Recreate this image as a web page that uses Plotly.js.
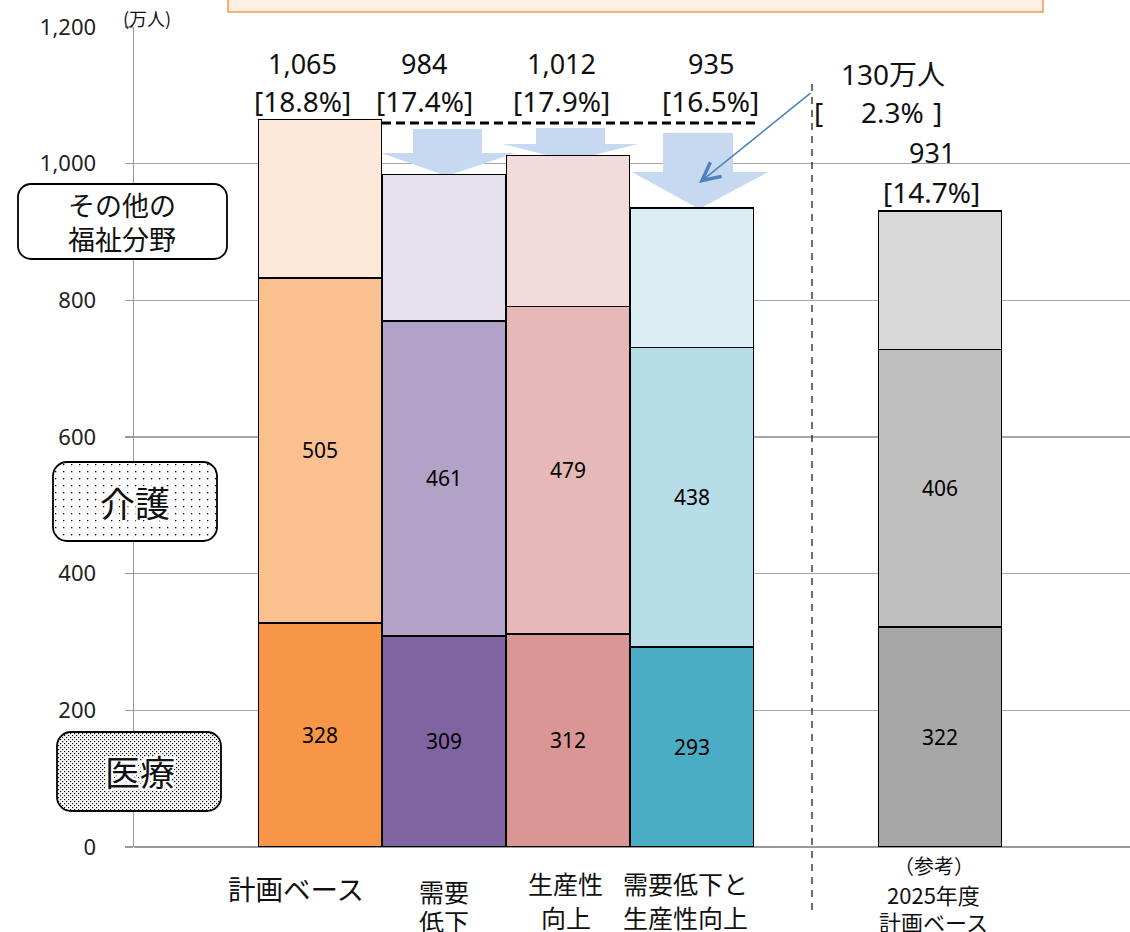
<!DOCTYPE html>
<html>
<head>
<meta charset="utf-8">
<script src="https://cdn.plot.ly/plotly-3.0.1.min.js"></script>
<style>html,body{margin:0;padding:0;background:#fff;}#chart{width:1130px;height:932px;}</style>
</head>
<body>
<div id="chart"></div>
<script>
// ---- data ----
const categories = ['計画ベース', '需要低下', '生産性向上', '需要低下と生産性向上', '（参考）2025年度計画ベース'];
const categoryLines = [['計画ベース'], ['需要', '低下'], ['生産性', '向上'], ['需要低下と', '生産性向上'], ['（参考）', '2025年度', '計画ベース']];
const xPositions = [0, 1, 2, 3, 5];
const iryo = [328, 309, 312, 293, 322];      // 医療
const kaigo = [505, 461, 479, 438, 406];     // 介護
const sonota = [232, 214, 221, 204, 203];    // その他の福祉分野
const totals = ['1,065', '984', '1,012', '935', '931'];
const shares = ['[18.8%]', '[17.4%]', '[17.9%]', '[16.5%]', '[14.7%]'];
const gapLabel = '130万人';
const gapShare = '2.3%';
const yTicks = [0, 200, 400, 600, 800, 1000, 1200];
const yTickText = ['0', '200', '400', '600', '800', '1,000', '1,200'];

const iryoColors = ['#F79646', '#8064A2', '#D99694', '#4BACC6', '#A6A6A6'];
const kaigoColors = ['#FAC090', '#B3A2C7', '#E6B9B8', '#B7DEE8', '#BFBFBF'];
const sonotaColors = ['#FDE9D9', '#E6E0EC', '#F2DCDB', '#DBEEF4', '#D9D9D9'];

// ---- geometry helpers (page pixels -> paper / data) ----
const W = 1130, H = 932;
const M = {l: 134, r: 0, t: 27, b: 85};
const PW = W - M.l - M.r, PH = H - M.t - M.b;
const XR = [-1.5, -1.5 + PW / 124];
const YR = [0, 1200];
const pxX = p => (p - M.l) / PW;
const pxY = p => (H - M.b - p) / PH;
const dX = p => XR[0] + pxX(p) * (XR[1] - XR[0]);
const dY = p => YR[0] + pxY(p) * (YR[1] - YR[0]);

const NUM = 'Noto Sans, Noto Sans CJK JP, sans-serif';
const JP = 'Noto Sans CJK JP, Noto Sans, sans-serif';

const barLine = {color: '#000', width: 1.5};
const common = {type: 'bar', x: xPositions, width: 0.99, hoverinfo: 'skip', showlegend: false};
const traces = [
  Object.assign({}, common, {name: '医療', y: iryo, marker: {color: iryoColors, line: barLine},
    text: iryo.map(String), textposition: 'inside', insidetextanchor: 'middle', textangle: 0,
    constraintext: 'none', textfont: {family: NUM, size: 21, color: '#000'}}),
  Object.assign({}, common, {name: '介護', y: kaigo, marker: {color: kaigoColors, line: barLine},
    text: kaigo.map(String), textposition: 'inside', insidetextanchor: 'middle', textangle: 0,
    constraintext: 'none', textfont: {family: NUM, size: 21, color: '#000'}}),
  Object.assign({}, common, {name: 'その他の福祉分野', y: sonota, marker: {color: sonotaColors, line: barLine},
    textposition: 'none'})
];

// ---- annotations ----
const ann = [];
const totalOffsets = [-0.145, -0.16, -0.05, 0.153, -0.065];
const totalRows = [[63, 101], [63, 101], [63, 101], [63, 101], [152, 192]];
xPositions.forEach((x, i) => {
  ann.push({x: x + totalOffsets[i], y: pxY(totalRows[i][0]), xref: 'x', yref: 'paper', text: totals[i],
    showarrow: false, font: {family: NUM, size: 27, color: '#111'}, xanchor: 'center', yanchor: 'middle'});
  ann.push({x: x + totalOffsets[i], y: pxY(totalRows[i][1]), xref: 'x', yref: 'paper', text: shares[i],
    showarrow: false, font: {family: NUM, size: 28, color: '#111'}, xanchor: 'center', yanchor: 'middle'});
});
// category labels
const catLayout = [
  {ys: [888], sizes: [27.5]},
  {ys: [891, 921], sizes: [25, 25]},
  {ys: [883, 917], sizes: [25, 25]},
  {ys: [883, 917], sizes: [25, 25]},
  {ys: [865, 894, 921], sizes: [20, 22, 22]}
];
const catOffsets = [-0.19, 0.0, -0.02, -0.05, -0.05];
categoryLines.forEach((lines, i) => {
  lines.forEach((t, j) => {
    ann.push({x: xPositions[i] + catOffsets[i], y: pxY(catLayout[i].ys[j]), xref: 'x', yref: 'paper', text: t,
      showarrow: false, font: {family: JP, size: catLayout[i].sizes[j], color: '#111'},
      xanchor: 'center', yanchor: 'middle'});
  });
});
// gap annotation
ann.push({x: pxX(893), y: pxY(74), xref: 'paper', yref: 'paper', text: gapLabel, showarrow: false,
  font: {family: NUM, size: 28, color: '#111'}, xanchor: 'center', yanchor: 'middle'});
ann.push({x: pxX(818), y: pxY(112), xref: 'paper', yref: 'paper', text: '[', showarrow: false,
  font: {family: NUM, size: 28, color: '#111'}, xanchor: 'center', yanchor: 'middle'});
ann.push({x: pxX(892), y: pxY(112), xref: 'paper', yref: 'paper', text: gapShare, showarrow: false,
  font: {family: NUM, size: 28, color: '#111'}, xanchor: 'center', yanchor: 'middle'});
ann.push({x: pxX(937), y: pxY(112), xref: 'paper', yref: 'paper', text: ']', showarrow: false,
  font: {family: NUM, size: 28, color: '#111'}, xanchor: 'center', yanchor: 'middle'});
// blue arrow
ann.push({x: dX(699), y: dY(183), xref: 'x', yref: 'y', ax: 812 - 699, ay: 92 - 183, text: '',
  showarrow: true, arrowhead: 5, arrowsize: 2.2, arrowwidth: 1.6, arrowcolor: '#4F81BD', standoff: 0});
// unit label
ann.push({x: pxX(147), y: pxY(18), xref: 'paper', yref: 'paper', text: '(万人)', showarrow: false,
  font: {family: JP, size: 18, color: '#111'}, xanchor: 'center', yanchor: 'middle'});
// label boxes text
const halo = '-2px -2px 0 #fff, 2px -2px 0 #fff, -2px 2px 0 #fff, 2px 2px 0 #fff, 0 2px 0 #fff, 0 -2px 0 #fff, 2px 0 0 #fff, -2px 0 0 #fff';
ann.push({x: pxX(122), y: pxY(205), xref: 'paper', yref: 'paper', text: 'その他の', showarrow: false,
  font: {family: JP, size: 27, color: '#111'}, xanchor: 'center', yanchor: 'middle'});
ann.push({x: pxX(122), y: pxY(238), xref: 'paper', yref: 'paper', text: '福祉分野', showarrow: false,
  font: {family: JP, size: 27, color: '#111'}, xanchor: 'center', yanchor: 'middle'});
ann.push({x: pxX(135), y: pxY(501), xref: 'paper', yref: 'paper', text: '介護', showarrow: false,
  font: {family: JP, size: 35, color: '#111', shadow: halo}, xanchor: 'center', yanchor: 'middle'});
ann.push({x: pxX(140), y: pxY(770), xref: 'paper', yref: 'paper', text: '医療', showarrow: false,
  font: {family: JP, size: 35, color: '#111', shadow: halo}, xanchor: 'center', yanchor: 'middle'});

// ---- shapes ----
function arrowPath(a) {
  const pts = [[a.sl, a.st], [a.sr, a.st], [a.sr, a.ht], [a.hr, a.ht], [a.tx, a.ty], [a.hl, a.ht], [a.sl, a.ht]];
  return 'M' + pts.map(p => dX(p[0]).toFixed(4) + ',' + dY(p[1]).toFixed(3)).join(' L') + ' Z';
}
const bigArrows = [
  {sl: 413, sr: 482, st: 129, ht: 153, hl: 381, hr: 515, tx: 447, ty: 176},
  {sl: 536, sr: 605, st: 128, ht: 144, hl: 503, hr: 638, tx: 570, ty: 161},
  {sl: 663, sr: 733, st: 133, ht: 172, hl: 632, hr: 768, tx: 699, ty: 209}
];
const shapes = bigArrows.map(a => ({type: 'path', xref: 'x', yref: 'y', path: arrowPath(a),
  fillcolor: '#C6D9F1', line: {width: 0}, layer: 'between'}));
shapes.push({type: 'line', xref: 'x', yref: 'y', x0: dX(382), x1: dX(756), y0: dY(123), y1: dY(123),
  line: {color: '#000', width: 3, dash: '9px,5px'}, layer: 'above'});
shapes.push({type: 'line', xref: 'paper', yref: 'paper', x0: pxX(812), x1: pxX(812), y0: pxY(84), y1: pxY(910),
  line: {color: '#222', width: 1.3, dash: '7px,6px'}, layer: 'above'});
shapes.push({type: 'rect', xref: 'paper', yref: 'paper', x0: pxX(228), x1: pxX(1043), y0: pxY(-5), y1: pxY(12),
  fillcolor: '#FEF0E4', line: {color: '#F79646', width: 1.5}, layer: 'above'});

// ---- label box images ----
function boxSvg(w, h, rx, pat) {
  let defs = '', fill = '';
  if (pat) {
    defs = '<defs><pattern id="p" width="' + pat.w + '" height="' + pat.h + '" patternUnits="userSpaceOnUse">' +
      pat.dots.map(d => '<rect x="' + d[0] + '" y="' + d[1] + '" width="' + pat.s + '" height="' + pat.s + '" fill="#000"/>').join('') +
      '</pattern></defs>';
    fill = '<rect x="1" y="1" width="' + (w - 2) + '" height="' + (h - 2) + '" rx="' + rx + '" fill="url(#p)"/>';
  }
  const svg = '<svg xmlns="http://www.w3.org/2000/svg" width="' + w + '" height="' + h + '" viewBox="0 0 ' + w + ' ' + h + '">' + defs +
    '<rect x="1" y="1" width="' + (w - 2) + '" height="' + (h - 2) + '" rx="' + rx + '" fill="#fff"/>' + fill +
    '<rect x="1" y="1" width="' + (w - 2) + '" height="' + (h - 2) + '" rx="' + rx + '" fill="none" stroke="#000" stroke-width="1.8"/></svg>';
  return 'data:image/svg+xml;charset=utf-8,' + encodeURIComponent(svg);
}
function boxImage(x0, y0, x1, y1, rx, pat) {
  return {source: boxSvg(x1 - x0, y1 - y0, rx, pat), xref: 'paper', yref: 'paper',
    x: pxX(x0), y: pxY(y0), sizex: (x1 - x0) / PW, sizey: (y1 - y0) / PH,
    xanchor: 'left', yanchor: 'top', sizing: 'stretch', layer: 'above'};
}
const images = [
  boxImage(17, 183, 228, 260, 13, null),
  boxImage(52, 461, 218, 542, 14, {w: 8, h: 7, s: 1.3, dots: [[3, 3]]}),
  boxImage(56, 731, 222, 812, 14, {w: 4, h: 4, s: 1.2, dots: [[0, 0], [2, 2]]})
];

const layout = {
  width: W, height: H,
  margin: M,
  paper_bgcolor: '#fff', plot_bgcolor: '#fff',
  barmode: 'stack', bargap: 0,
  showlegend: false,
  xaxis: {range: XR, showticklabels: false, ticks: '', showgrid: false, zeroline: false, showline: false, fixedrange: true},
  yaxis: {range: YR, tickvals: yTicks, ticktext: yTickText, ticks: 'outside', ticklen: 8, tickcolor: '#999', tickwidth: 1.3,
    showgrid: true, gridcolor: '#A6A6A6', gridwidth: 1.3, zeroline: true, zerolinecolor: '#999', zerolinewidth: 1.3,
    showline: true, linecolor: '#999', linewidth: 1.5, ticklabelstandoff: 24,
    tickfont: {family: NUM, size: 22, color: '#222'}, fixedrange: true},
  annotations: ann,
  shapes: shapes,
  images: images
};

Plotly.newPlot('chart', traces, layout, {displayModeBar: false, staticPlot: true});
</script>
</body>
</html>
